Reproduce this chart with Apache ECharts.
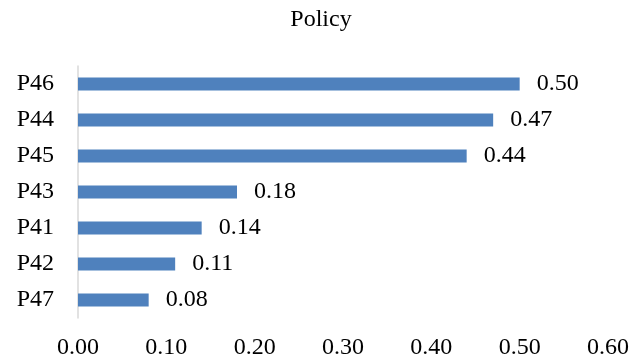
<!DOCTYPE html>
<html>
<head>
<meta charset="utf-8">
<script src="https://cdn.jsdelivr.net/npm/echarts@6/dist/echarts.min.js"></script>
<style>
  html, body { margin: 0; padding: 0; background: #fff; }
  #chart { width: 642px; height: 363px; }
</style>
</head>
<body>
<div id="chart"></div>
<script>
// Policy item scores, listed bottom to top
const categories = ['P47', 'P42', 'P41', 'P43', 'P45', 'P44', 'P46'];
const scores = [0.08, 0.11, 0.14, 0.18, 0.44, 0.47, 0.50];
const xTicks = [0, 0.1, 0.2, 0.3, 0.4, 0.5, 0.6];

const serif = '"Liberation Serif", "DejaVu Serif", serif';
const chart = echarts.init(document.getElementById('chart'), null, { renderer: 'canvas' });

chart.setOption({
  animation: false,
  backgroundColor: '#ffffff',
  title: {
    text: 'Policy',
    left: 'center',
    top: 3,
    textStyle: { fontFamily: serif, fontSize: 24, fontWeight: 'normal', color: '#000' }
  },
  grid: { left: 78, right: 34, top: 66, bottom: 45, containLabel: false },
  xAxis: {
    type: 'value',
    min: xTicks[0],
    max: xTicks[xTicks.length - 1],
    interval: 0.1,
    axisLine: { show: false },
    axisTick: { show: false },
    splitLine: { show: false },
    axisLabel: {
      margin: 18,
      fontFamily: serif,
      fontSize: 24,
      color: '#000',
      formatter: v => v.toFixed(2)
    }
  },
  yAxis: {
    type: 'category',
    data: categories,
    axisLine: { show: true, lineStyle: { color: '#d9d9d9', width: 1.5 } },
    axisTick: { show: false },
    axisLabel: { margin: 24, fontFamily: serif, fontSize: 24, color: '#000' }
  },
  series: [{
    type: 'bar',
    data: scores,
    barWidth: 13,
    itemStyle: { color: '#4f81bd' },
    label: {
      show: true,
      position: 'right',
      distance: 17,
      fontFamily: serif,
      fontSize: 24,
      color: '#000',
      formatter: p => p.value.toFixed(2)
    }
  }]
});
</script>
</body>
</html>
